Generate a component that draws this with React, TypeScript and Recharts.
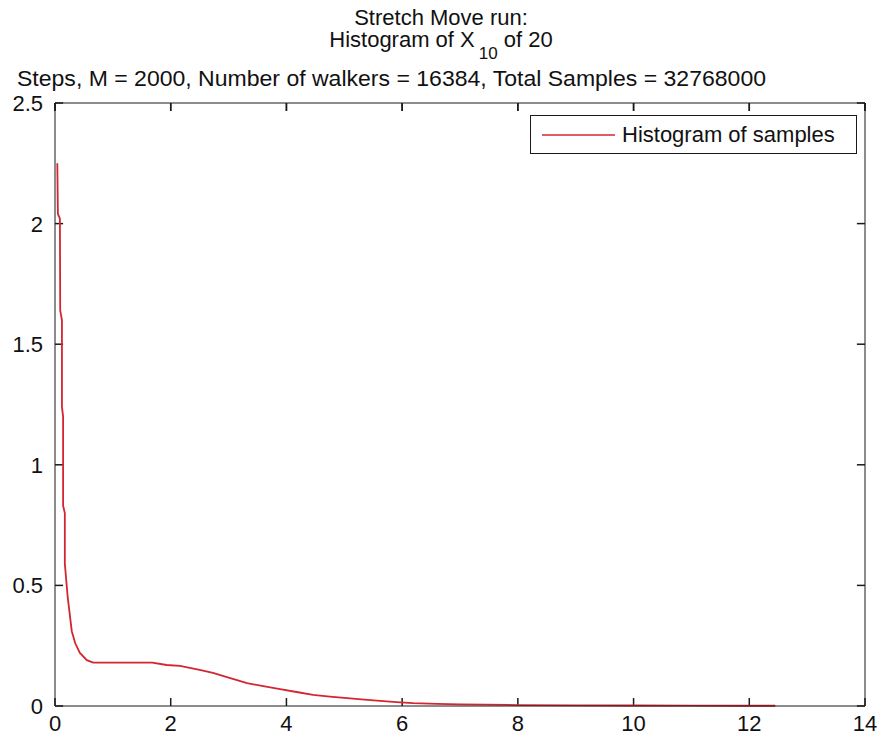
import React from 'react';
import { LineChart, Line, XAxis, YAxis, ReferenceLine } from 'recharts';

// histogram outline (bin position, density)
const binX = [
  0.04, 0.05, 0.085, 0.09, 0.12, 0.12, 0.14, 0.14, 0.17, 0.17, 0.22, 0.29, 0.35, 0.43, 0.55, 0.66,
  1.0, 1.4, 1.68, 1.93, 2.16, 2.5, 2.73, 3.0, 3.32, 3.6, 3.89, 4.2, 4.46, 4.75, 5.05, 5.35, 5.62,
  5.9, 6.19, 6.6, 7.0, 8.0, 9.0, 10.0, 11.0, 12.0, 12.45,
];
const binDensity = [
  2.25, 2.04, 2.02, 1.64, 1.6, 1.24, 1.2, 0.83, 0.8, 0.59, 0.45, 0.31, 0.26, 0.22, 0.19, 0.18,
  0.18, 0.18, 0.18, 0.17, 0.166, 0.15, 0.137, 0.118, 0.095, 0.082, 0.07, 0.057, 0.046, 0.039, 0.033,
  0.026, 0.021, 0.016, 0.012, 0.009, 0.007, 0.004, 0.003, 0.002, 0.0015, 0.001, 0.001,
];
const xTicks = [0, 2, 4, 6, 8, 10, 12, 14];
const yTicks = [0, 0.5, 1, 1.5, 2, 2.5];
const xDomain = [0, 14];
const yDomain = [0, 2.5];
const seriesName = 'Histogram of samples';
const titleLines = ['Stretch Move run:', 'Histogram of X', '10', ' of 20'];
const subtitle = 'Steps, M = 2000, Number of walkers = 16384, Total Samples = 32768000';

const data = binX.map((x, i) => ({ x, y: binDensity[i] }));

const FONT = '"Liberation Sans", Arial, Helvetica, sans-serif';
const FONT_SIZE = 22;
const LINE_COLOR = '#d42630';
const AXIS_COLOR = '#1a1a1a';
const TEXT_COLOR = '#111';
const TICK_LEN = 8;
// inner tick length expressed in data units (about 8px each way)
const TICK_DX = 0.14;
const TICK_DY = 0.033;

function BottomTick(props: any) {
  const { x, y, payload } = props;
  return (
    <text x={x} y={y + 25} textAnchor="middle" fill={TEXT_COLOR} fontSize={FONT_SIZE} fontFamily={FONT}>
      {payload.value}
    </text>
  );
}

function LeftTick(props: any) {
  const { x, y, payload } = props;
  return (
    <text x={x - 12} y={y + 8} textAnchor="end" fill={TEXT_COLOR} fontSize={FONT_SIZE} fontFamily={FONT}>
      {payload.value}
    </text>
  );
}

function TopTick(props: any) {
  const { x, y } = props;
  return <line x1={x} x2={x} y1={y} y2={y + TICK_LEN} stroke={AXIS_COLOR} strokeWidth={1.5} />;
}

function LegendBox() {
  return (
    <div
      style={{
        position: 'absolute',
        left: 530,
        top: 115,
        zIndex: 2,
        boxSizing: 'border-box',
        width: 327,
        height: 39,
        border: `1px solid ${AXIS_COLOR}`,
        background: '#fff',
        display: 'flex',
        alignItems: 'center',
        paddingLeft: 11,
        fontFamily: FONT,
        fontSize: FONT_SIZE,
        color: TEXT_COLOR,
      }}
    >
      <svg width={80} height={10} style={{ flex: 'none' }}>
        <line x1={0} y1={5} x2={73} y2={5} stroke={LINE_COLOR} strokeWidth={1.6} />
      </svg>
      <span>{seriesName}</span>
    </div>
  );
}

export default function App() {
  const tickSegs: any[] = [];
  xTicks.forEach((t) => {
    tickSegs.push([{ x: t, y: yDomain[0] }, { x: t, y: yDomain[0] + TICK_DY }]);
    tickSegs.push([{ x: t, y: yDomain[1] }, { x: t, y: yDomain[1] - TICK_DY }]);
  });
  yTicks.forEach((t) => {
    tickSegs.push([{ x: xDomain[0], y: t }, { x: xDomain[0] + TICK_DX, y: t }]);
    tickSegs.push([{ x: xDomain[1], y: t }, { x: xDomain[1] - TICK_DX, y: t }]);
  });

  return (
    <div style={{ position: 'absolute', left: 0, top: 0, width: 881, height: 740 }}>
      <svg
        width={881}
        height={100}
        style={{ position: 'absolute', left: 0, top: 0, zIndex: 2, pointerEvents: 'none' }}
      >
        <g fontFamily={FONT} fontSize={FONT_SIZE} fill={TEXT_COLOR}>
          <text x={441} y={25} textAnchor="middle">
            {titleLines[0]}
          </text>
          <text x={441} y={47} textAnchor="middle">
            {titleLines[1]}
            <tspan dx={4} dy={12} fontSize={17}>
              {titleLines[2]}
            </tspan>
            <tspan dy={-12}>{titleLines[3]}</tspan>
          </text>
          <text x={17} y={86} textLength={749} lengthAdjust="spacingAndGlyphs">
            {subtitle}
          </text>
        </g>
      </svg>
      <LineChart
        width={881}
        height={740}
        data={data}
        margin={{ top: 102, right: 15, bottom: 4, left: 5 }}
      >
        <XAxis
          xAxisId="bottom"
          dataKey="x"
          type="number"
          domain={xDomain}
          ticks={xTicks}
          interval={0}
          height={30}
          tickSize={0}
          tickMargin={0}
          tickLine={false}
          tick={<BottomTick />}
          axisLine={{ stroke: AXIS_COLOR }}
        />
        <XAxis
          xAxisId="top"
          orientation="top"
          dataKey="x"
          type="number"
          domain={xDomain}
          ticks={xTicks}
          interval={0}
          height={1}
          tickSize={0}
          tickMargin={0}
          tickLine={false}
          tick={<TopTick />}
          axisLine={{ stroke: AXIS_COLOR }}
        />
        <YAxis
          yAxisId="left"
          type="number"
          domain={yDomain}
          ticks={yTicks}
          interval={0}
          width={50}
          tickSize={0}
          tickMargin={0}
          tickLine={false}
          tick={<LeftTick />}
          axisLine={{ stroke: AXIS_COLOR }}
        />
        <YAxis
          yAxisId="right"
          orientation="right"
          type="number"
          domain={yDomain}
          ticks={yTicks}
          interval={0}
          width={1}
          tickSize={0}
          tickMargin={0}
          tickLine={false}
          tick={false}
          axisLine={{ stroke: AXIS_COLOR }}
        />
        {tickSegs.map((seg, i) => (
          <ReferenceLine
            key={`tick-${i}`}
            xAxisId="bottom"
            yAxisId="left"
            segment={seg}
            stroke={AXIS_COLOR}
            strokeWidth={1.5}
            ifOverflow="visible"
          />
        ))}
        <Line
          xAxisId="bottom"
          yAxisId="left"
          dataKey="y"
          name={seriesName}
          type="linear"
          stroke={LINE_COLOR}
          strokeWidth={1.8}
          dot={false}
          isAnimationActive={false}
        />
      </LineChart>
      <LegendBox />
    </div>
  );
}
